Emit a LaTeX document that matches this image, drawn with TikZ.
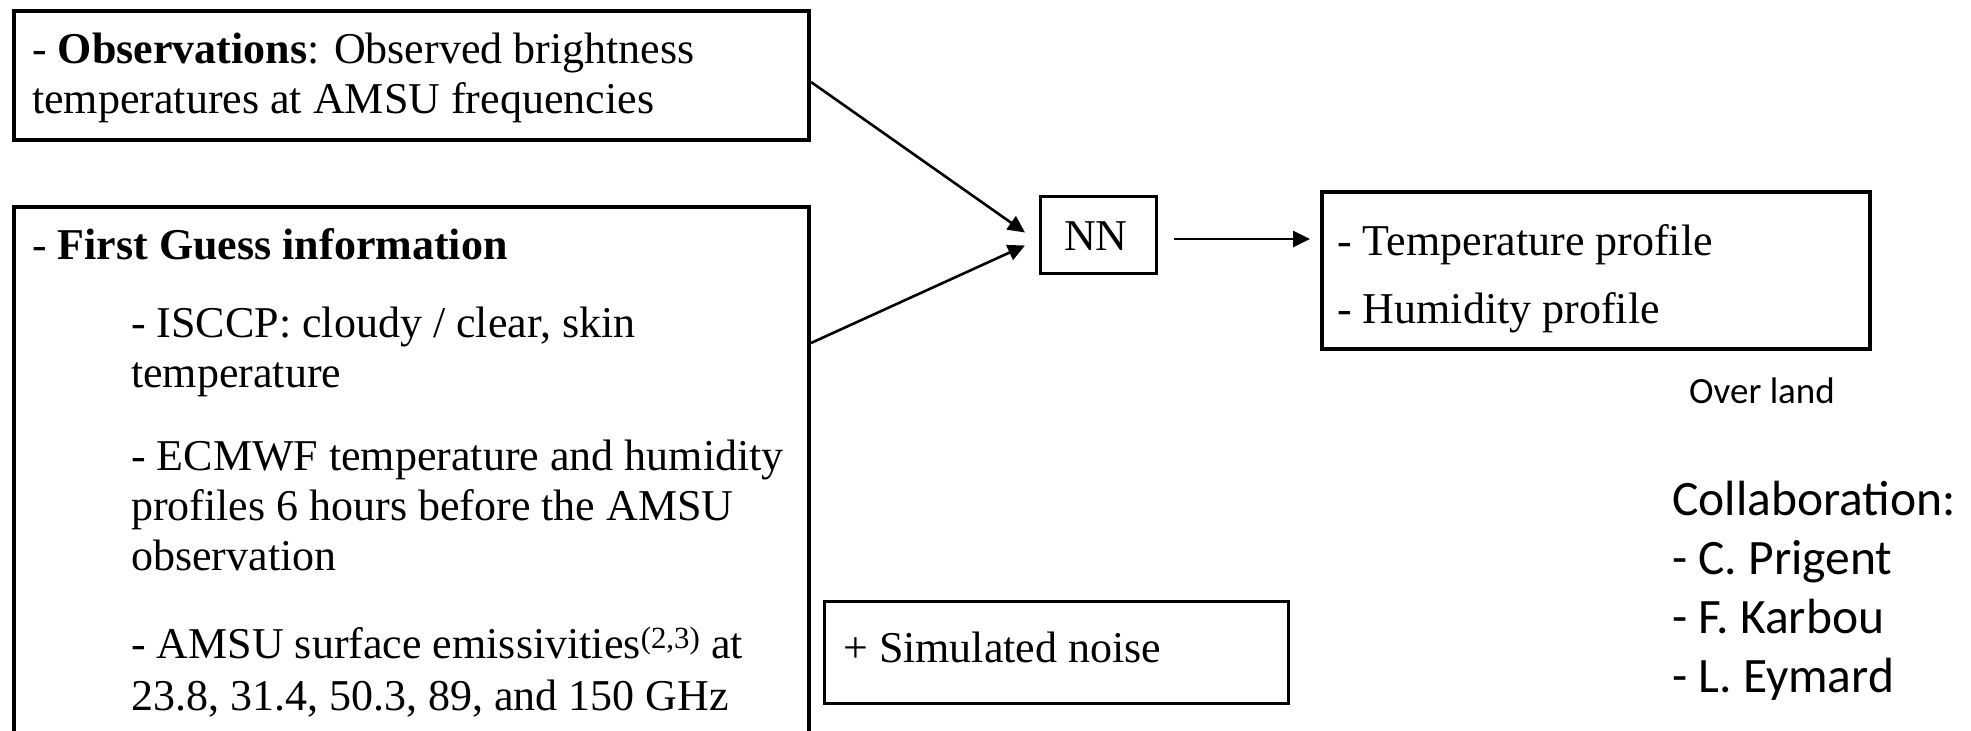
\documentclass[tikz,border=0pt]{standalone}
\usepackage{fontspec}
\setmainfont{Liberation Serif}
\newfontfamily\calib{Carlito}
\usetikzlibrary{arrows.meta,calc}
\begin{document}
\begin{tikzpicture}[x=1pt,y=-1pt,
  boxthick/.style={draw=black,line width=4pt,inner sep=0pt},
  boxthin/.style={draw=black,line width=3pt,inner sep=0pt},
  txt/.style={inner sep=0pt,anchor=base west,align=left},
  conn/.style={line width=2.6pt,-{Triangle[length=17pt,width=16pt]}},
  tnr/.style={font=\fontsize{44}{50}\selectfont},
  cal/.style={font=\calib\fontsize{49.5}{59}\selectfont}]
\useasboundingbox (0,0) rectangle (1971,731);
\clip (0,0) rectangle (1971,731);
% boxes
\node[boxthick,minimum width=795pt,minimum height=129pt,anchor=north west] (obs) at (12,9) {};
\node[boxthick,minimum width=795pt,minimum height=560pt,anchor=north west] (fg) at (12,205) {};
\node[boxthin,minimum width=116pt,minimum height=77pt,anchor=north west] (nn) at (1039,195) {};
\node[boxthick,minimum width=548pt,minimum height=157pt,anchor=north west] (out) at (1320,190) {};
\node[boxthin,minimum width=464pt,minimum height=102pt,anchor=north west] (noise) at (823,600) {};
% texts
\node[txt,tnr] (obstext) at (32,113) {- \textbf{Observations}: Observed brightness\\temperatures at AMSU frequencies};
\node[txt,tnr] (fghead) at (32,259) {- \textbf{First Guess information}};
\node[txt,tnr] (fgtext) at (131,710) {- ISCCP: cloudy / clear, skin\\temperature\\[33pt]
- ECMWF temperature and humidity\\profiles 6 hours before the AMSU\\observation\\[38pt]
- AMSU surface emissivities\textsuperscript{(2,3)} at\\[2pt]23.8, 31.4, 50.3, 89, and 150 GHz};
\node[txt,tnr] (nntext) at (1064,250) {NN};
\node[txt,tnr] (outtext) at (1337,323) {- Temperature profile\\[18pt]- Humidity profile};
\node[txt,tnr] (noisetext) at (843,662) {+ Simulated noise};
\node[txt,font=\calib\fontsize{37}{44}\selectfont] (overland) at (1689,403) {Over land};
\node[txt,cal] (collab) at (1672,692) {Collaboration:\\- C. Prigent\\- F. Karbou\\- L. Eymard};
% connectors
\coordinate (obsout) at ($(obs.north east)+(0,73)$);
\coordinate (fgout) at ($(fg.north east)+(0,138)$);
\coordinate (tipa) at ($(nn.west)+(-14,-2.5)$);
\coordinate (tipb) at ($(nn.west)+(-14,10.5)$);
\coordinate (outin) at ($(nn.east)+(0,4)$);
\draw[conn] (obsout) -- (tipa);
\draw[conn] (fgout) -- (tipb);
\draw[conn,shorten <=16pt,shorten >=10pt] (outin) -- (outin -| out.west);
\end{tikzpicture}
\end{document}
